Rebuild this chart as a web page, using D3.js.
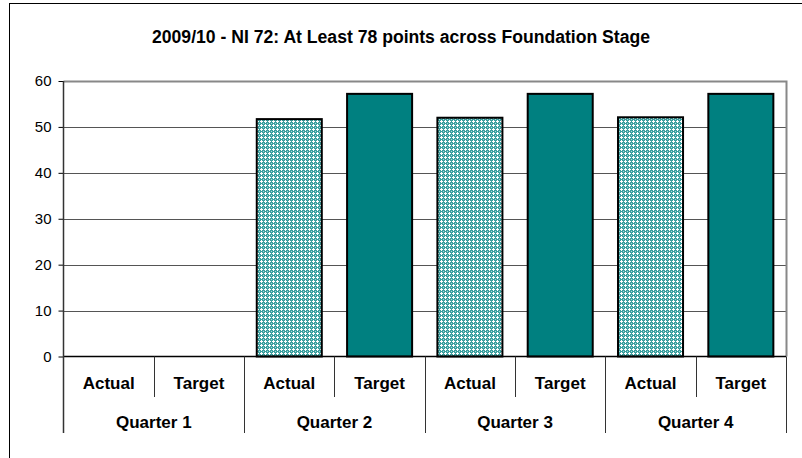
<!DOCTYPE html>
<html>
<head>
<meta charset="utf-8">
<script src="https://cdn.jsdelivr.net/npm/d3@7"></script>
<style>
  body { margin: 0; background: #fff; }
  svg { display: block; font-family: 'Liberation Sans', Arial, sans-serif; }
  .label { font-size: 17px; font-weight: bold; fill: #000; }
</style>
</head>
<body>
<svg id="chart"></svg>
<script>
const title = '2009/10 - NI 72: At Least 78 points across Foundation Stage';
const quarters = ['Quarter 1', 'Quarter 2', 'Quarter 3', 'Quarter 4'];
const series = ['Actual', 'Target'];
const actual = [null, 51.7, 52.0, 52.1];
const target = [null, 57.2, 57.2, 57.2];
const yTicks = [0, 10, 20, 30, 40, 50, 60];

const w = 802, h = 458;
const padLeft = 63.5, padRight = 786, padTop = 81, padBottom = 356.5;

const svg = d3.select('#chart').attr('width', w).attr('height', h);

// hatched fill for the actual bars
const defs = svg.append('defs');
const pat = defs.append('pattern')
  .attr('id', 'dots')
  .attr('width', 4).attr('height', 4)
  .attr('patternUnits', 'userSpaceOnUse');
pat.append('rect').attr('width', 4).attr('height', 4).attr('fill', '#3a9f9f');
[[1,0],[0,1],[1,1],[2,1],[1,2]].forEach(p => {
  pat.append('rect').attr('x', p[0]).attr('y', p[1]).attr('width', 1).attr('height', 1).attr('fill', '#ffffff');
});
pat.append('rect').attr('x', 3).attr('y', 3).attr('width', 1).attr('height', 1).attr('fill', '#a8d8d8');

// outer frame
svg.append('rect')
  .attr('x', 9.5).attr('y', 3.5)
  .attr('width', 800).attr('height', 470)
  .attr('fill', 'none')
  .attr('stroke', '#000')
  .attr('stroke-width', 1);

svg.append('text')
  .attr('x', 401).attr('y', 43)
  .attr('text-anchor', 'middle')
  .attr('class', 'label')
  .style('font-size', '17.6px')
  .text(title);

let cats = [];
quarters.forEach(q => series.forEach(s => cats.push(q + '|' + s)));

const x = d3.scaleBand()
  .domain(cats)
  .range([padLeft, padRight])
  .paddingInner(0.28)
  .paddingOuter(0.14);

const y = d3.scaleLinear()
  .domain([0, 60])
  .range([padBottom, padTop]);

// gridlines
svg.append('g')
  .selectAll('line')
  .data(yTicks.filter(d => d > 0 && d < 60))
  .enter()
  .append('line')
  .attr('x1', padLeft).attr('x2', padRight)
  .attr('y1', d => Math.round(y(d)) + 0.5)
  .attr('y2', d => Math.round(y(d)) + 0.5)
  .attr('stroke', '#555')
  .attr('stroke-width', 1);

// plot area top and right edge
svg.append('path')
  .attr('d', 'M' + padLeft + ',' + (padTop + 0.5) + 'H' + (padRight + 0.5) + 'V' + padBottom)
  .attr('fill', 'none')
  .attr('stroke', '#888')
  .attr('stroke-width', 2);

const rows = [];
quarters.forEach((q, i) => {
  if (actual[i] != null) rows.push({key: q + '|Actual', v: actual[i], s: 'Actual'});
  if (target[i] != null) rows.push({key: q + '|Target', v: target[i], s: 'Target'});
});

svg.append('g')
  .selectAll('rect')
  .data(rows)
  .enter()
  .append('rect')
  .attr('x', d => x(d.key))
  .attr('y', d => y(d.v))
  .attr('width', x.bandwidth())
  .attr('height', d => y(0) - y(d.v))
  .attr('fill', d => d.s == 'Actual' ? 'url(#dots)' : '#008080')
  .attr('stroke', '#000')
  .attr('stroke-width', 2);

// y axis
const ejeY = d3.axisLeft(y).tickValues(yTicks).tickSize(5).tickPadding(7);
const gy = svg.append('g')
  .attr('transform', 'translate(' + padLeft + ',0)')
  .call(ejeY);
gy.select('.domain').remove();
gy.selectAll('line').attr('stroke', '#000');
gy.selectAll('text')
  .style('font-size', '15px')
  .style('font-family', "'Liberation Sans', Arial, sans-serif")
  .attr('fill', '#000');

// category axis lines
svg.append('line')
  .attr('x1', padLeft).attr('x2', padRight)
  .attr('y1', padBottom).attr('y2', padBottom)
  .attr('stroke', '#000').attr('stroke-width', 1.5);
svg.append('line')
  .attr('x1', padLeft).attr('x2', padLeft)
  .attr('y1', padTop).attr('y2', 433)
  .attr('stroke', '#333').attr('stroke-width', 1.5);

const step = x.step();
// separators between Actual and Target
svg.append('g')
  .selectAll('line')
  .data(quarters)
  .enter()
  .append('line')
  .attr('x1', d => Math.round(x(d + '|Target') - x.paddingInner() * step / 2) + 0.5)
  .attr('x2', d => Math.round(x(d + '|Target') - x.paddingInner() * step / 2) + 0.5)
  .attr('y1', padBottom).attr('y2', 397)
  .attr('stroke', '#333').attr('stroke-width', 1);

// separators after each quarter
svg.append('g')
  .selectAll('line')
  .data(quarters)
  .enter()
  .append('line')
  .attr('x1', d => Math.round(x(d + '|Target') + x.bandwidth() + x.paddingInner() * step / 2) + 0.5)
  .attr('x2', d => Math.round(x(d + '|Target') + x.bandwidth() + x.paddingInner() * step / 2) + 0.5)
  .attr('y1', padBottom).attr('y2', 433)
  .attr('stroke', '#333').attr('stroke-width', 1);

svg.append('g')
  .selectAll('text')
  .data(cats)
  .enter()
  .append('text')
  .attr('class', 'label')
  .attr('text-anchor', 'middle')
  .attr('x', d => x(d) + x.bandwidth() / 2)
  .attr('y', 389)
  .text(d => d.split('|')[1]);

svg.append('g')
  .selectAll('text')
  .data(quarters)
  .enter()
  .append('text')
  .attr('class', 'label')
  .attr('text-anchor', 'middle')
  .attr('x', d => x(d + '|Target') - x.paddingInner() * step / 2)
  .attr('y', 428)
  .text(d => d);
</script>
</body>
</html>
